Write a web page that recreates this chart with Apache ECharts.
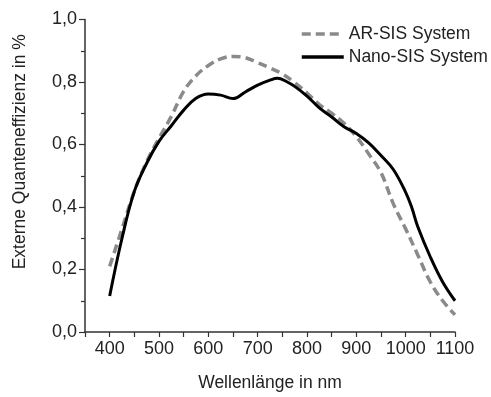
<!DOCTYPE html>
<html>
<head>
<meta charset="utf-8">
<script src="https://cdn.jsdelivr.net/npm/echarts@6/dist/echarts.min.js"></script>
<style>html,body{margin:0;padding:0;background:#fff}#c{width:491px;height:397px}</style>
</head>
<body>
<div id="c"></div>
<script>
const seriesNames = ['AR-SIS System', 'Nano-SIS System'];
const arWavelength = [400,425,450,475,500,525,550,575,600,625,650,675,700,725,750,775,800,825,850,875,900,925,950,975,1000,1025,1050,1075,1100];
const arValues = [0.21,0.33,0.45,0.545,0.62,0.69,0.77,0.82,0.853,0.874,0.882,0.878,0.862,0.845,0.826,0.798,0.765,0.728,0.70,0.668,0.625,0.57,0.51,0.41,0.33,0.245,0.16,0.10,0.055];
const nanoWavelength = [400,425,450,475,500,525,550,575,600,625,650,675,700,725,740,760,775,800,825,850,875,900,925,950,975,1000,1012,1025,1050,1075,1100];
const nanoValues = [0.115,0.30,0.45,0.54,0.61,0.66,0.71,0.748,0.762,0.758,0.747,0.768,0.790,0.806,0.812,0.800,0.786,0.755,0.717,0.688,0.657,0.635,0.605,0.565,0.52,0.447,0.40,0.335,0.24,0.16,0.10];
const xTickLabels = [400,500,600,700,800,900,1000,1100];
const yTickLabels = [0,0.2,0.4,0.6,0.8,1.0];
const xTitle = 'Wellenlänge in nm';
const yTitle = 'Externe Quanteneffizienz in %';

const font = 'Liberation Sans, Arial, sans-serif';
const txt = '#222';
const axisCol = '#333';

const chart = echarts.init(document.getElementById('c'), null, {renderer: 'canvas'});
chart.setOption({
  animation: false,
  backgroundColor: '#fff',
  grid: {left: 85, right: 36, top: 19.5, bottom: 60.3, containLabel: false},
  legend: {
    left: 295, top: 19, orient: 'vertical', itemWidth: 42, itemHeight: 14, itemGap: 3,
    itemStyle: {opacity: 0},
    lineStyle: {opacity: 1, width: 3.5},
    textStyle: {fontFamily: font, fontSize: 17.5, color: txt, lineHeight: 20},
    data: seriesNames
  },
  xAxis: {
    type: 'value', min: 350, max: 1100, interval: 50,
    name: xTitle, nameLocation: 'middle', nameGap: 42,
    nameTextStyle: {fontFamily: font, fontSize: 17.5, color: txt},
    axisLine: {show: true, onZero: false, lineStyle: {color: axisCol, width: 1.5}},
    axisTick: {show: true, length: 5, lineStyle: {color: axisCol, width: 1.2}},
    axisLabel: {customValues: xTickLabels, margin: 8, fontFamily: font, fontSize: 18, color: txt,
      formatter: v => String(v)},
    splitLine: {show: false}
  },
  yAxis: {
    type: 'value', min: 0, max: 1, interval: 0.2,
    name: yTitle, nameLocation: 'middle', nameGap: 56, nameRotate: 90,
    nameTextStyle: {fontFamily: font, fontSize: 17.5, color: txt, padding: [0, 0, 0, 48]},
    axisLine: {show: true, lineStyle: {color: axisCol, width: 1.5}},
    axisTick: {show: true, length: 6, lineStyle: {color: axisCol, width: 1.2}},
    minorTick: {show: true, splitNumber: 2, length: 4, lineStyle: {color: axisCol, width: 1.2}},
    axisLabel: {customValues: yTickLabels, margin: 8, fontFamily: font, fontSize: 18, color: txt,
      formatter: v => v.toFixed(1).replace('.', ',')},
    splitLine: {show: false}
  },
  series: [
    {
      name: seriesNames[0], type: 'line', smooth: 0.4, symbol: 'none',
      data: arWavelength.map((x, i) => [x, arValues[i]]),
      lineStyle: {color: '#8a8a8a', width: 3.5, type: [9, 5]},
      itemStyle: {color: '#8a8a8a'}, z: 2
    },
    {
      name: seriesNames[1], type: 'line', smooth: 0.4, symbol: 'none',
      data: nanoWavelength.map((x, i) => [x, nanoValues[i]]),
      lineStyle: {color: '#000', width: 3},
      itemStyle: {color: '#000'}, z: 3
    }
  ]
});
</script>
</body>
</html>
